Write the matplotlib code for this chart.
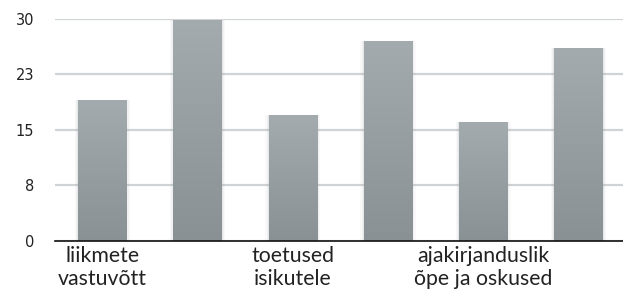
import numpy as np
import matplotlib.pyplot as plt
from matplotlib.colors import LinearSegmentedColormap

# categories (only every other label is shown in the original)
categories = ['liikmete\nvastuvõtt', '', 'toetused\nisikutele', '',
              'ajakirjanduslik\nõpe ja oskused', '']
values = [19, 29.8, 17, 27, 16, 26]
yticks = [0, 7.5, 15, 22.5, 30]
ytick_labels = ['0', '8', '15', '23', '30']

fig = plt.figure(figsize=(6.23, 2.90), dpi=100)
ax = fig.add_axes([0.088, 0.17, 0.917, 0.765])

x = np.arange(len(values))
bars = ax.bar(x, values, width=0.51, color='none', zorder=3)

# light shadow + vertical gradient in each bar
cmap = LinearSegmentedColormap.from_list('g', ['#8a9194', '#a4abae'])
grad = np.linspace(0, 1, 256).reshape(-1, 1)
for b in bars:
    x0, w, h = b.get_x(), b.get_width(), b.get_height()
    for k, a in [(0.035, 0.06), (0.02, 0.08), (0.008, 0.12)]:
        ax.bar(x0 + w / 2, h, width=w + 2 * k, color='#9a9fa2', alpha=a,
               zorder=2, linewidth=0)
    im = ax.imshow(grad, cmap=cmap, aspect='auto', origin='lower',
                   extent=[x0, x0 + w, 0, h], zorder=3)
    im.set_clip_path(b)

ax.set_xlim(-0.5, 5.5)
ax.set_ylim(0, 30)
ax.set_yticks(yticks)
ax.set_yticklabels(ytick_labels, fontsize=10.5, color='#222222')
ax.set_xticks(x)
ax.set_xticklabels(categories, fontsize=15.3, family='Lato',
                   color='#222222', linespacing=1.15)
ax.tick_params(axis='both', length=0)
ax.tick_params(axis='y', pad=15)
ax.tick_params(axis='x', pad=4)

ax.yaxis.grid(True, color='#d0d3d6', linewidth=1.6, zorder=0)
ax.set_axisbelow(True)
for s in ['top', 'right', 'left']:
    ax.spines[s].set_visible(False)
ax.spines['bottom'].set_color('#111111')
ax.spines['bottom'].set_linewidth(1.2)
ax.spines['bottom'].set_zorder(5)

fig.savefig('out.png', dpi=100)
